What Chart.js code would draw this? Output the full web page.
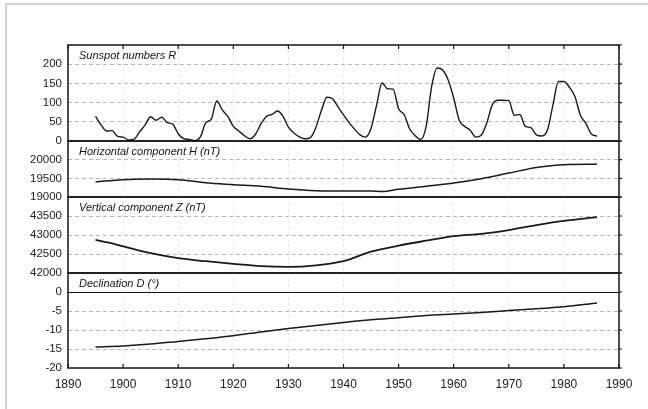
<!DOCTYPE html>
<html><head><meta charset="utf-8">
<script src="https://cdn.jsdelivr.net/npm/chart.js@4/dist/chart.umd.min.js"></script>
<style>
html,body{margin:0;padding:0;background:#fff;}
#wrap{position:relative;width:648px;height:409px;overflow:hidden;background:#fff;}
#frame{position:absolute;left:5px;top:3px;width:700px;height:500px;border-left:2px solid #d2d2d2;border-top:2px solid #d2d2d2;}
canvas{position:absolute;left:0;top:0;}
</style></head><body>
<div id="wrap"><div id="frame"></div>
<canvas id="c1" width="648" height="409"></canvas>
<canvas id="c2" width="648" height="409"></canvas>
<canvas id="c3" width="648" height="409"></canvas>
<canvas id="c4" width="648" height="409"></canvas>
</div>
<script>
// ---- DATA ----
const xTicks = [1890,1900,1910,1920,1930,1940,1950,1960,1970,1980,1990];

const ssYears = [1895,1896,1897,1898,1899,1900,1901,1902,1903,1904,1905,1906,1907,1908,1909,1910,1911,1912,1913,1914,1915,1916,1917,1918,1919,1920,1921,1922,1923,1924,1925,1926,1927,1928,1929,1930,1931,1932,1933,1934,1935,1936,1937,1938,1939,1940,1941,1942,1943,1944,1945,1946,1947,1948,1949,1950,1951,1952,1953,1954,1955,1956,1957,1958,1959,1960,1961,1962,1963,1964,1965,1966,1967,1968,1969,1970,1971,1972,1973,1974,1975,1976,1977,1978,1979,1980,1981,1982,1983,1984,1985,1986];
const ssValues = [64,42,26,27,12,10,3,5,24,42,63,54,62,48,44,19,6,4,1,10,47,57,104,81,64,38,26,14,6,17,44,64,69,78,65,36,21,11,6,9,36,80,114,110,89,68,48,31,16,10,33,93,151,136,135,84,69,32,14,4,38,142,190,185,159,112,54,38,28,10,15,47,94,106,106,105,67,69,38,35,16,13,28,93,155,155,140,116,67,46,18,13];
const ssTicks = [0,50,100,150,200,250];

const hYears = [1895,1900,1905,1910,1915,1920,1925,1930,1935,1940,1945,1947,1950,1955,1960,1965,1970,1975,1980,1986];
const hValues = [19405,19465,19480,19465,19380,19330,19285,19215,19170,19160,19160,19145,19205,19290,19375,19490,19640,19790,19865,19875];
const hTicks = [19000,19500,20000,20500];

const zYears = [1895,1898,1900,1905,1910,1915,1920,1925,1930,1935,1940,1945,1950,1955,1960,1965,1970,1975,1980,1986];
const zValues = [42870,42780,42700,42520,42390,42310,42240,42180,42160,42200,42310,42560,42720,42850,42970,43030,43130,43260,43370,43470];
const zTicks = [42000,42500,43000,43500,44000];

const dYears = [1895,1900,1905,1910,1915,1920,1925,1930,1935,1940,1945,1950,1955,1960,1965,1970,1975,1980,1986];
const dValues = [-14.5,-14.2,-13.7,-13.0,-12.3,-11.5,-10.5,-9.6,-8.8,-8.0,-7.3,-6.8,-6.2,-5.8,-5.4,-4.9,-4.4,-3.9,-2.9];
const dTicks = [-20,-15,-10,-5,0,5];

const titles = ['Sunspot numbers R','Horizontal component H (nT)','Vertical component Z (nT)','Declination D (°)'];

// ---- LAYOUT / STYLE ----
const W = 648, H = 409, PLOT_LEFT = 68, PLOT_RIGHT = 619;
const FONT = {family:'"Liberation Sans", Arial, sans-serif', size:11.5};
const XFONT = {family:'"Liberation Sans", Arial, sans-serif', size:12};

const decor = {
  id:'decor',
  afterDraw(chart, args, o){
    const {ctx, chartArea:a, scales} = chart;
    ctx.save();
    ctx.strokeStyle = '#151515';
    ctx.lineWidth = 1.5;
    ctx.strokeRect(a.left, a.top, a.right - a.left, a.bottom - a.top);
    ctx.lineWidth = 1.2;
    ctx.beginPath();
    if (o.zero){
      const y0 = Math.round(scales.y.getPixelForValue(0)) + 0.5;
      ctx.moveTo(a.left, y0); ctx.lineTo(a.right, y0);
    }
    scales.y.ticks.forEach(t => {
      const y = scales.y.getPixelForValue(t.value);
      ctx.moveTo(a.right, y); ctx.lineTo(a.right + 3, y);
    });
    scales.x.ticks.forEach(t => {
      const x = scales.x.getPixelForValue(t.value);
      if (o.topTicks){ ctx.moveTo(x, a.top); ctx.lineTo(x, a.top + 4); }
      if (o.bottomTicks){ ctx.moveTo(x, a.bottom); ctx.lineTo(x, a.bottom - 4); }
    });
    ctx.stroke();
    ctx.fillStyle = '#151515';
    ctx.font = 'italic 11px "Liberation Sans", Arial, sans-serif';
    ctx.textBaseline = 'middle';
    ctx.fillText(o.title, a.left + 11, a.top + 10.5);
    ctx.restore();
  }
};

const panels = [
  {id:'c1', top:45,  bottom:141, years:ssYears, values:ssValues, ticks:ssTicks, title:titles[0], lw:1.4, topTicks:true},
  {id:'c2', top:141, bottom:197, years:hYears,  values:hValues,  ticks:hTicks,  title:titles[1], lw:1.5},
  {id:'c3', top:197, bottom:273, years:zYears,  values:zValues,  ticks:zTicks,  title:titles[2], lw:1.8},
  {id:'c4', top:273, bottom:368, years:dYears,  values:dValues,  ticks:dTicks,  title:titles[3], lw:1.5, zero:true, bottomTicks:true, xLabels:true}
];

panels.forEach(p => {
  const XH = p.xLabels ? 31 : 0;
  const yMin = p.ticks[0], yMax = p.ticks[p.ticks.length - 1];
  new Chart(document.getElementById(p.id), {
    type:'line',
    data:{datasets:[{
      data:p.years.map((x,i) => ({x, y:p.values[i]})),
      borderColor:'#1a1a1a', borderWidth:p.lw, pointRadius:0,
      cubicInterpolationMode:'monotone', fill:false
    }]},
    options:{
      responsive:false, animation:false, devicePixelRatio:1,
      layout:{padding:{left:0, right:W - PLOT_RIGHT, top:p.top, bottom:H - p.bottom - XH}},
      plugins:{
        legend:{display:false}, tooltip:{enabled:false},
        decor:{title:p.title, zero:!!p.zero, topTicks:!!p.topTicks, bottomTicks:!!p.bottomTicks}
      },
      scales:{
        x:{
          type:'linear', min:xTicks[0], max:xTicks[xTicks.length-1],
          afterBuildTicks:s => { s.ticks = xTicks.map(v => ({value:v})); },
          ticks:{display:!!p.xLabels, padding:9, font:XFONT, color:'#222', maxRotation:0,
                 callback:v => String(v)},
          grid:{color:'#e2e2e2', drawTicks:false, lineWidth:1},
          border:{display:false, dash:[2,4]},
          afterFit:s => { s.height = XH; }
        },
        y:{
          type:'linear', min:yMin, max:yMax,
          afterBuildTicks:s => { s.ticks = p.ticks.map(v => ({value:v})); },
          ticks:{font:FONT, color:'#222', padding:6, callback:v => v === yMax ? '' : String(v)},
          grid:{drawTicks:false, lineWidth:1,
                color:c => (c.tick && (c.tick.value === yMax || c.tick.value === yMin)) ? 'rgba(0,0,0,0)' : '#b8b8b8'},
          border:{display:false, dash:[4,3]},
          afterFit:s => { s.width = PLOT_LEFT; }
        }
      }
    },
    plugins:[decor]
  });
});
</script>
</body></html>
